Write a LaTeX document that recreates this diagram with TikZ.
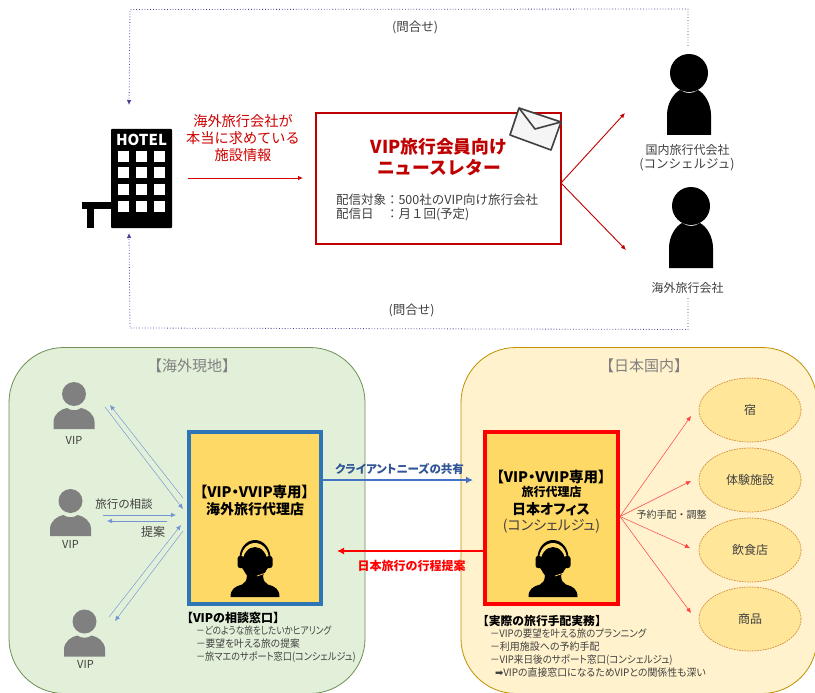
\documentclass[tikz,border=0pt]{standalone}
\usepackage{fontspec}
\usepackage{graphicx}
\setmainfont{Noto Sans CJK JP}
\newfontfamily\uif[RawFeature=+palt]{Noto Sans CJK JP}
\newfontfamily\symfont{DejaVu Sans}
\usetikzlibrary{arrows.meta,shapes.geometric}
\definecolor{txtgray}{HTML}{404040}
\definecolor{darkred}{HTML}{C00000}
\definecolor{navyd}{HTML}{4A3C96}
\definecolor{blueline}{HTML}{4472C4}
\definecolor{boxyellow}{HTML}{FFD966}
\definecolor{panelgreen}{HTML}{E2F0D9}
\definecolor{edgegreen}{HTML}{6F8F55}
\definecolor{panelyellow}{HTML}{FFF2CC}
\definecolor{edgeyellow}{HTML}{BF9000}
\definecolor{spotfill}{HTML}{FFE699}
\definecolor{spotedge}{HTML}{D08A3C}
\definecolor{boxblue}{HTML}{2E75B6}
\definecolor{sharetxt}{HTML}{2F5597}
\newcommand{\fs}[1]{\fontsize{#1}{#1}\selectfont}
\tikzset{
  lbl/.style={inner sep=0pt,outer sep=0pt,align=center,text=txtgray},
  lft/.style={inner sep=0pt,outer sep=0pt,anchor=west,text=txtgray},
  tip/.style={-{Latex[length=5pt,width=4.5pt]}},
  redthin/.style={draw=red!75,line width=.5pt,tip},
  darkredthin/.style={draw=darkred,line width=.9pt,tip},
  bluethin/.style={draw=blueline!75,line width=.45pt,tip},
  dots/.style={draw=navyd,line width=.8pt,dotted,tip},
  panel/.style={rectangle,rounded corners=55pt,line width=.8pt,inner sep=0pt},
  agent/.style={rectangle,fill=boxyellow,line width=4pt,minimum height=172pt,inner sep=0pt},
  spot/.style={ellipse,draw=spotedge,dash pattern=on 1.6pt off 1pt,line width=.7pt,fill=spotfill,minimum width=102pt,minimum height=64pt,inner sep=0pt,text=txtgray,font=\fs{12}},
  bigperson/.pic={
    \fill[black] (-22,62) -- (-22,42) .. controls (-22,30) and (-15,20) .. (-9,17) .. controls (-3,21) and (3,21) .. (9,17) .. controls (15,20) and (22,30) .. (22,42) -- (22,62) -- cycle;
    \fill[black] (0,0) circle (19pt);
  },
  smallperson/.pic={
    \fill[black!50] (-20.5,35) -- (-20.5,28) .. controls (-20.5,20) and (-13,15) .. (-7,14) .. controls (-3,17) and (3,17) .. (7,14) .. controls (13,15) and (20.5,20) .. (20.5,28) -- (20.5,35) -- cycle;
    \fill[black!50] (0,0) circle (12pt);
  },
  headset/.pic={
    \fill[black] (-24.5,35) .. controls (-24.5,27) and (-20,24.5) .. (-13,22.5) .. controls (-10,21) and (-8,19) .. (-8,12) -- (8,12) .. controls (8,19) and (10,21) .. (13,22.5) .. controls (20,24.5) and (24.5,27) .. (24.5,35) -- cycle;
    \fill[black] (0,-4) ellipse (15.5pt and 18pt);
    \fill[boxyellow] (0,-3) ellipse (13.8pt and 16pt);
    \fill[black] (0,1) ellipse (12.5pt and 16pt);
    \fill[black,rounded corners=2.5pt] (-17.5,-6) rectangle (-11,6);
    \fill[black,rounded corners=2.5pt] (11,-6) rectangle (17.5,6);
    \draw[boxyellow,line width=.7pt] (2,14) -- (11,11);
  }
}
\begin{document}
\begin{tikzpicture}[x=1pt,y=-1pt]
\useasboundingbox (0,0) rectangle (815,693);
\clip (0,0) rectangle (815,693);
\fill[white] (0,0) rectangle (815,693);

% ---- hotel
\fill[black,rounded corners=.8pt] (111,129) rectangle (172,228);
\fill[black] (82,202) rectangle (111,209);
\fill[black] (87,209) rectangle (94,228);
\foreach \cx in {123.3,141,159}
  \foreach \cy in {156,172.5,189,206}
    \fill[white] (\cx-5.5,\cy-5.5) rectangle (\cx+5.5,\cy+5.5);
\node[inner sep=0pt,text=white,font=\fs{15}\bfseries] (hoteltxt) at (141.5,139.5) {HOTEL};
\coordinate (hoteltop) at (129,105);
\coordinate (hotelbot) at (129,233);
\coordinate (hotelout) at (188,178);

% ---- newsletter
\node[rectangle,draw=darkred,fill=white,line width=2.6pt,minimum width=245pt,minimum height=131pt,inner sep=0pt] (news) at (438.5,178.5) {};
\coordinate (newsin) at (303,178);
\coordinate (newsout) at (561,183);
\filldraw[fill=white!96!black,draw=txtgray,line width=1.6pt,line join=round] (519,108) -- (561,122) -- (551,150) -- (510,135) -- cycle;
\draw[txtgray,line width=1.6pt,line join=round] (519,108) -- (535,129) -- (561,122);
\node[lbl,text=darkred,font=\fs{17.8}\bfseries] (newst1) at (439,147) {VIP旅行会員向け};
\node[lbl,text=darkred,font=\fs{17.8}\bfseries] (newst2) at (439,168) {ニュースレター};
\node[lft,font=\fs{12.5}] (newsd1) at (336,200) {配信対象：500社のVIP向け旅行会社};
\node[lft,font=\fs{12.5}] (newsd2) at (336,214.5) {配信日　：月１回(予定)};

\node[lbl,text=darkred!80!red,font=\fs{14.2}] (lead1) at (243,121.5) {海外旅行会社が};
\node[lbl,text=darkred!80!red,font=\fs{14.2}] (lead2) at (243,138.5) {本当に求めている};
\node[lbl,text=darkred!80!red,font=\fs{14.2}] (lead3) at (243,155.5) {施設情報};
\draw[draw=red!85!black,line width=.8pt,tip] (hotelout) -- (newsin);

% ---- agencies top right
\pic at (689,73) {bigperson};
\pic at (691,206) {bigperson};
\coordinate (p1in) at (625,113);
\coordinate (p2in) at (626,250);
\draw[darkredthin] (newsout) -- (p1in);
\draw[darkredthin] (newsout) -- (p2in);
\node[lbl,font=\fs{12}] (p1a) at (687.5,150) {国内旅行代会社};
\node[lbl,font=\fs{12.5}] (p1b) at (687,165) {(コンシェルジュ)};
\node[lbl,font=\fs{12}] (p2a) at (687.5,288) {海外旅行会社};

% ---- inquiries
\coordinate (p1up) at (688,46);
\coordinate (p2dn) at (688,298);
\draw[dots] (p1up) -- (688,9) -- (130,9.5) -- (hoteltop);
\draw[dots] (p2dn) -- (688,329.5) -- (130,328) -- (hotelbot);
\node[lbl,font=\fs{12.5}] (q1) at (415,27) {(問合せ)};
\node[lbl,font=\fs{12.5}] (q2) at (411.5,310) {(問合せ)};

% ---- panels
\node[panel,draw=edgegreen,fill=panelgreen,minimum width=356pt,minimum height=346pt] (green) at (187,520.5) {};
\node[panel,draw=edgeyellow,fill=panelyellow,minimum width=356pt,minimum height=346pt] (yellow) at (639,520.5) {};
\node[lbl,text=black!50,font=\fs{15}] (gt) at (192,365.5) {【海外現地】};
\node[lbl,text=black!50,font=\fs{15}] (yt) at (644,365.5) {【日本国内】};

% ---- VIPs
\pic at (74,394) {smallperson};
\pic at (70.5,501) {smallperson};
\pic at (84.5,621.5) {smallperson};
\node[lbl,font=\fs{11}] (v1) at (74,440) {VIP};
\node[lbl,font=\fs{11}] (v2) at (70.5,544) {VIP};
\node[lbl,font=\fs{11}] (v3) at (85.5,664) {VIP};
\node[lbl,font=\fs{11.5}] (consult) at (124,504) {旅行の相談};
\node[lbl,font=\fs{12}] (prop) at (153,532) {提案};

\coordinate (a1a) at (105,407); \coordinate (a1b) at (183,509);
\coordinate (a2a) at (183,498); \coordinate (a2b) at (110,405);
\coordinate (a3a) at (103,515); \coordinate (a3b) at (176,515);
\coordinate (a4a) at (167,521); \coordinate (a4b) at (107,521);
\coordinate (a5a) at (109,617); \coordinate (a5b) at (181,525);
\coordinate (a6a) at (183,531); \coordinate (a6b) at (115,621);
\draw[bluethin] (a1a) -- (a1b);
\draw[bluethin] (a2a) -- (a2b);
\draw[bluethin] (a3a) -- (a3b);
\draw[bluethin] (a4a) -- (a4b);
\draw[bluethin] (a5a) -- (a5b);
\draw[bluethin] (a6a) -- (a6b);

% ---- agency boxes
\node[agent,draw=boxblue,minimum width=132pt] (overseas) at (255,518) {};
\node[agent,draw=red,minimum width=133pt] (japan) at (551.5,518) {};
\pic at (255,562) {headset};
\pic at (553,562) {headset};

\node[lbl,text=black,font=\fs{14.5}\uif\bfseries] (o1) at (254.5,492) {【VIP・VVIP専用】};
\node[lbl,text=black,font=\fs{14}\bfseries] (o2) at (255,509) {海外旅行代理店};
\node[lbl,text=black,font=\fs{14.5}\uif\bfseries] (j1) at (551,477) {【VIP・VVIP専用】};
\node[lbl,text=black,font=\fs{12}\bfseries] (j2) at (551.5,492) {旅行代理店};
\node[lbl,text=black,font=\fs{14}\uif\bfseries] (j3) at (551,509) {日本オフィス};
\node[lbl,text=txtgray,font=\fs{14}\uif] (j4) at (551.5,526) {(コンシェルジュ)};

% ---- between agencies
\coordinate (oe) at (overseas.east|-0,480);
\coordinate (je) at (473,480);
\coordinate (jw) at (japan.west|-0,551);
\coordinate (ow) at (337,551);
\draw[draw=blueline,line width=2pt,-{Latex[length=7pt,width=7pt]}] (oe) -- (je);
\draw[draw=red,line width=2.2pt,-{Latex[length=7pt,width=7pt]}] (jw) -- (ow);
\node[lbl,text=sharetxt,font=\fs{11.5}\uif\bfseries] (share) at (399.5,469) {クライアントニーズの共有};
\node[lbl,text=red,font=\fs{12}\bfseries] (plan) at (411.5,566) {日本旅行の行程提案};

% ---- providers
\node[spot] (s1) at (750,410) {宿};
\node[spot] (s2) at (750,480) {体験施設};
\node[spot] (s3) at (750,550) {飲食店};
\node[spot] (s4) at (750,619) {商品};
\coordinate (jout) at (620,516.5);
\coordinate (s1in) at (691,416);
\coordinate (s2in) at (691,481);
\coordinate (s3in) at (690,548);
\coordinate (s4in) at (691,613);
\draw[redthin] (jout) -- (s1in);
\draw[redthin] (jout) -- (s2in);
\draw[redthin] (jout) -- (s3in);
\draw[redthin] (jout) -- (s4in);
\node[lbl,font=\fs{10}] (adj) at (671.5,515) {予約手配・調整};

% ---- notes
\node[lft,text=black,font=\fs{12}\bfseries] (n0) at (181,617.5) {【VIPの相談窓口】};
\node[lft,font=\fs{10.3}\uif] (n1) at (196,631) {\scalebox{.84}[1]{－どのような旅をしたいかヒアリング}};
\node[lft,font=\fs{10.3}\uif] (n2) at (196,644) {\scalebox{.945}[1]{－要望を叶える旅の提案}};
\node[lft,font=\fs{10.3}\uif] (n3) at (196,657) {\scalebox{.89}[1]{－旅マエのサポート窓口(コンシェルジュ)}};
\node[lft,text=black,font=\fs{11.8}\bfseries] (m0) at (477,621) {【実際の旅行手配実務】};
\node[lft,font=\fs{10.3}\uif] (m1) at (490,634) {\scalebox{.92}[1]{－VIPの要望を叶える旅のプランニング}};
\node[lft,font=\fs{10.3}\uif] (m2) at (490,647) {\scalebox{.97}[1]{－利用施設への予約手配}};
\node[lft,font=\fs{10.3}\uif] (m3) at (490,660) {\scalebox{.93}[1]{－VIP来日後のサポート窓口(コンシェルジュ)}};
\node[lft,font=\fs{10.3}\uif] (m4) at (495,673) {\scalebox{.96}[1]{{\symfont ➡}VIPの直接窓口になるためVIPとの関係性も深い}};
\end{tikzpicture}
\end{document}
